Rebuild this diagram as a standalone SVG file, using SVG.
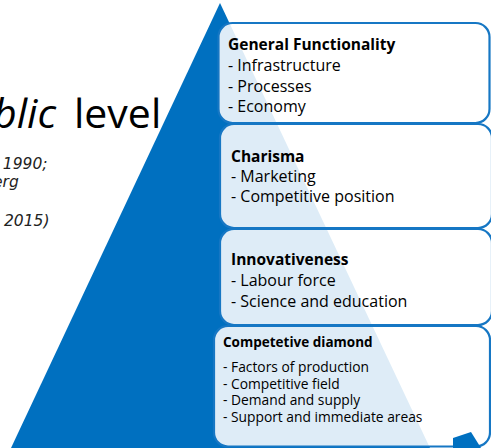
<svg xmlns="http://www.w3.org/2000/svg" width="491" height="448" viewBox="0 0 491 448">
<style>
.t{font-family:"Open Sans","Liberation Sans",sans-serif;fill:#000}
.h{font-size:41px}
.c{font-family:"DejaVu Sans","Liberation Sans",sans-serif;font-size:15.5px;font-style:italic;fill:#222}
.b{font-size:15.5px;font-weight:bold}
.i{font-size:16px}
.bs{font-size:13.5px;font-weight:bold}
.is{font-size:13.8px}
.box{fill:#fff;fill-opacity:0.87;stroke:#1677c4;stroke-width:2.2}
</style>
<rect width="491" height="448" fill="#fff"/>
<g id="title">
<text class="t h" y="128"><tspan x="-7" font-style="italic">blic </tspan><tspan x="74">level</tspan></text>
<text class="t c" x="-7" y="169">, 1990;</text>
<text class="t c" x="-7" y="187">erg</text>
<text class="t c" x="4" y="226">2015)</text>
</g>
<g id="pyramid">
<polygon points="220,3 430,448 11,448" fill="#0070c0"/>
</g>
<g id="connectors"/>
<g id="general-functionality">
<rect class="box" x="218.5" y="23" width="271" height="100" rx="14"/>
<text class="t b" x="228" y="50">General Functionality</text>
<text class="t i" x="228" y="71">- Infrastructure</text>
<text class="t i" x="228" y="91.5">- Processes</text>
<text class="t i" x="228" y="111.5">- Economy</text>
</g>
<g id="charisma">
<rect class="box" x="220" y="124" width="272" height="104" rx="14"/>
<text class="t b" x="231" y="161.5">Charisma</text>
<text class="t i" x="231" y="181.5">- Marketing</text>
<text class="t i" x="231" y="201.5">- Competitive position</text>
</g>
<g id="innovativeness">
<rect class="box" x="220" y="229" width="272" height="96" rx="14"/>
<text class="t b" x="231" y="265">Innovativeness</text>
<text class="t i" x="231" y="286">- Labour force</text>
<text class="t i" x="231" y="307">- Science and education</text>
</g>
<g id="competetive-diamond">
<rect class="box" x="214" y="326" width="276" height="120.5" rx="14"/>
<text class="t bs" x="223" y="347">Competetive diamond</text>
<text class="t is" x="223" y="371.5">- Factors of production</text>
<text class="t is" x="223" y="388.5">- Competitive field</text>
<text class="t is" x="223" y="405">- Demand and supply</text>
<text class="t is" x="223" y="422">- Support and immediate areas</text>
</g>
<g id="corner-shape">
<polygon points="453,438 471,432 481,448 453,448" fill="#0070c0"/>
</g>
</svg>
